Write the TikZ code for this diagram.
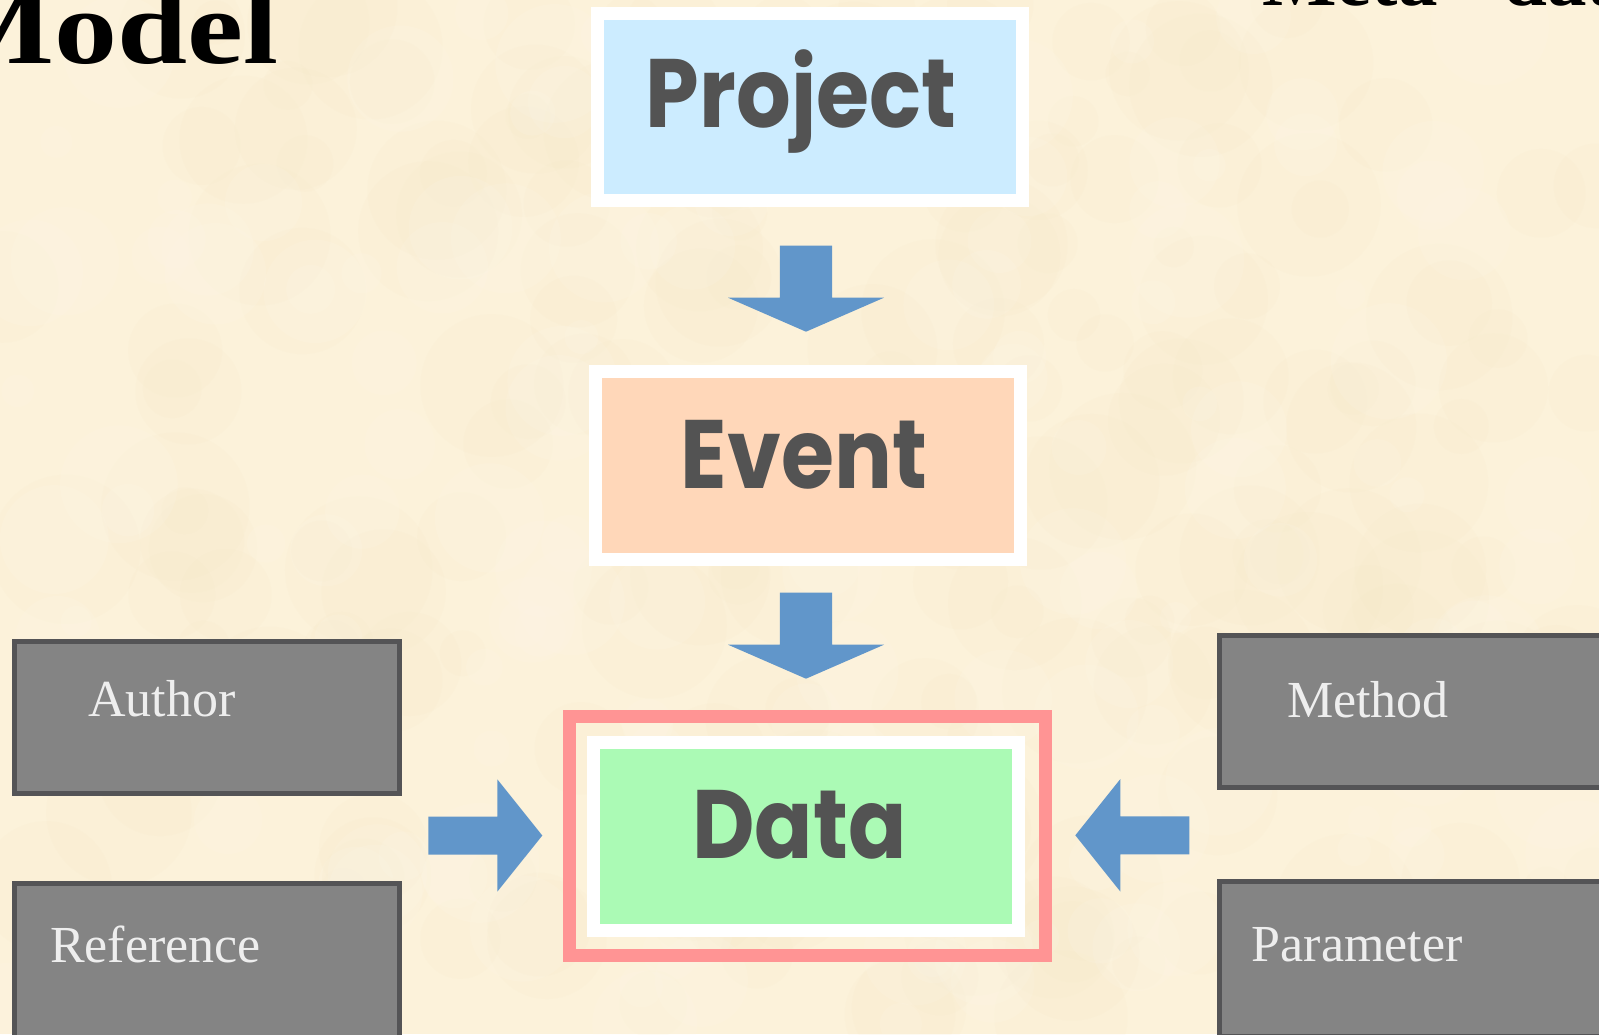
\documentclass[tikz,border=0pt]{standalone}
\usepackage{fontspec}
\setmainfont{Liberation Serif}
\newfontfamily\handfont{Poppins}
\usetikzlibrary{calc}

\definecolor{paper}{RGB}{252,242,218}
\definecolor{paperdark}{RGB}{246,230,194}
\definecolor{paperlight}{RGB}{254,248,234}
\definecolor{projblue}{RGB}{204,236,255}
\definecolor{eventpeach}{RGB}{255,215,185}
\definecolor{datagreen}{RGB}{171,250,181}
\definecolor{framered}{RGB}{255,148,148}
\definecolor{arrowblue}{RGB}{97,150,202}
\definecolor{boxgray}{RGB}{132,132,132}
\definecolor{boxedge}{RGB}{84,84,86}
\definecolor{inkgray}{RGB}{83,83,83}
\definecolor{labelwhite}{RGB}{238,238,238}

\tikzset{
  entity/.style={draw=white, line width=13pt, minimum width=425pt,
    minimum height=187.5pt, inner sep=0pt},
  entitytext/.style={anchor=base, text=inkgray, inner sep=0pt,
    font=\handfont\bfseries\fontsize{86}{86}\selectfont},
  metabox/.style={draw=boxedge, fill=boxgray, line width=5pt,
    minimum width=385pt, minimum height=151.7pt, inner sep=0pt},
  metatext/.style={anchor=base west, text=labelwhite, inner sep=0pt,
    font=\fontsize{52}{52}\selectfont},
  titletext/.style={inner sep=0pt, text=black},
  blockfill/.style={fill=arrowblue},
  pics/downarrow/.style={code={
    \fill[blockfill] (-26.2,0) -- (26.2,0) -- (26.2,52) -- (78,52)
      -- (0,86) -- (-78,52) -- (-26.2,52) -- cycle;}},
  pics/sidearrow/.style={code={
    \fill[blockfill] (0,-19) -- (69,-19) -- (69,-56.2) -- (114,0)
      -- (69,56.2) -- (69,19) -- (0,19) -- cycle;}},
}

\begin{document}
\begin{tikzpicture}[x=1pt, y=-1pt]
  \useasboundingbox (0,0) rectangle (1599,1034);

  % parchment background
  \begin{scope}
    \clip (0,0) rectangle (1599,1034);
    \fill[paper] (0,0) rectangle (1599,1034);
    \pgfmathsetseed{4217}
    \foreach \i in {1,...,220}{
      \pgfmathsetmacro\px{rnd*1599}
      \pgfmathsetmacro\py{rnd*1034}
      \pgfmathsetmacro\pr{20+rnd*55}
      \fill[paperdark, opacity=0.10] (\px,\py) circle (\pr);
    }
    \foreach \i in {1,...,160}{
      \pgfmathsetmacro\px{rnd*1599}
      \pgfmathsetmacro\py{rnd*1034}
      \pgfmathsetmacro\pr{15+rnd*45}
      \fill[paperlight, opacity=0.16] (\px,\py) circle (\pr);
    }

    % slide titles, running off the top edge
    \node[titletext, anchor=base east] (title) at (279,63)
      {\fontsize{105}{105}\selectfont\bfseries\scalebox{1.2}[1]{Model}};
    \node[titletext, anchor=base west] (metatitle) at (1262,5)
      {\fontsize{79}{79}\selectfont\bfseries Meta - data};
  \end{scope}

  % entity boxes
  \node[entity, fill=projblue] (project) at (810,107) {};
  \node[entity, fill=eventpeach] (event) at (808,465.25) {};
  \node[entity, fill=datagreen, minimum width=424.7pt, minimum height=187.8pt]
    (data) at (806.2,836.4) {};
  \node[draw=framered, line width=13pt, minimum width=476pt,
    minimum height=238.7pt, inner sep=0pt] (dataframe) at (807.2,835.8) {};

  \node[entitytext] (projecttext) at (801,127) {\scalebox{1}[1.13]{Project}};
  \node[entitytext] (eventtext) at (804,488) {\scalebox{1}[1.13]{Event}};
  \node[entitytext] (datatext) at (799.5,858) {\scalebox{1}[1.13]{Data}};

  % flow arrows
  \pic at (806,245.7) {downarrow};
  \pic at (806,592.7) {downarrow};
  \pic at (428.3,835.5) {sidearrow};
  \pic[xscale=-1] at (1189.3,835.3) {sidearrow};

  % meta-data boxes
  \node[metabox] (author) at (206.7,717.35) {};
  \node[metabox, minimum height=155pt] (reference) at (206.7,961) {};
  \node[metabox] (method) at (1412.3,711.65) {};
  \node[metabox, minimum height=155pt] (parameter) at (1412.3,959) {};

  \node[metatext] (authortext) at (88,716.7) {Author};
  \node[metatext] (referencetext) at (50,962.3) {Reference};
  \node[metatext] (methodtext) at (1287,717.7) {Method};
  \node[metatext] (parametertext) at (1251.7,961.7) {Parameter};
\end{tikzpicture}
\end{document}
